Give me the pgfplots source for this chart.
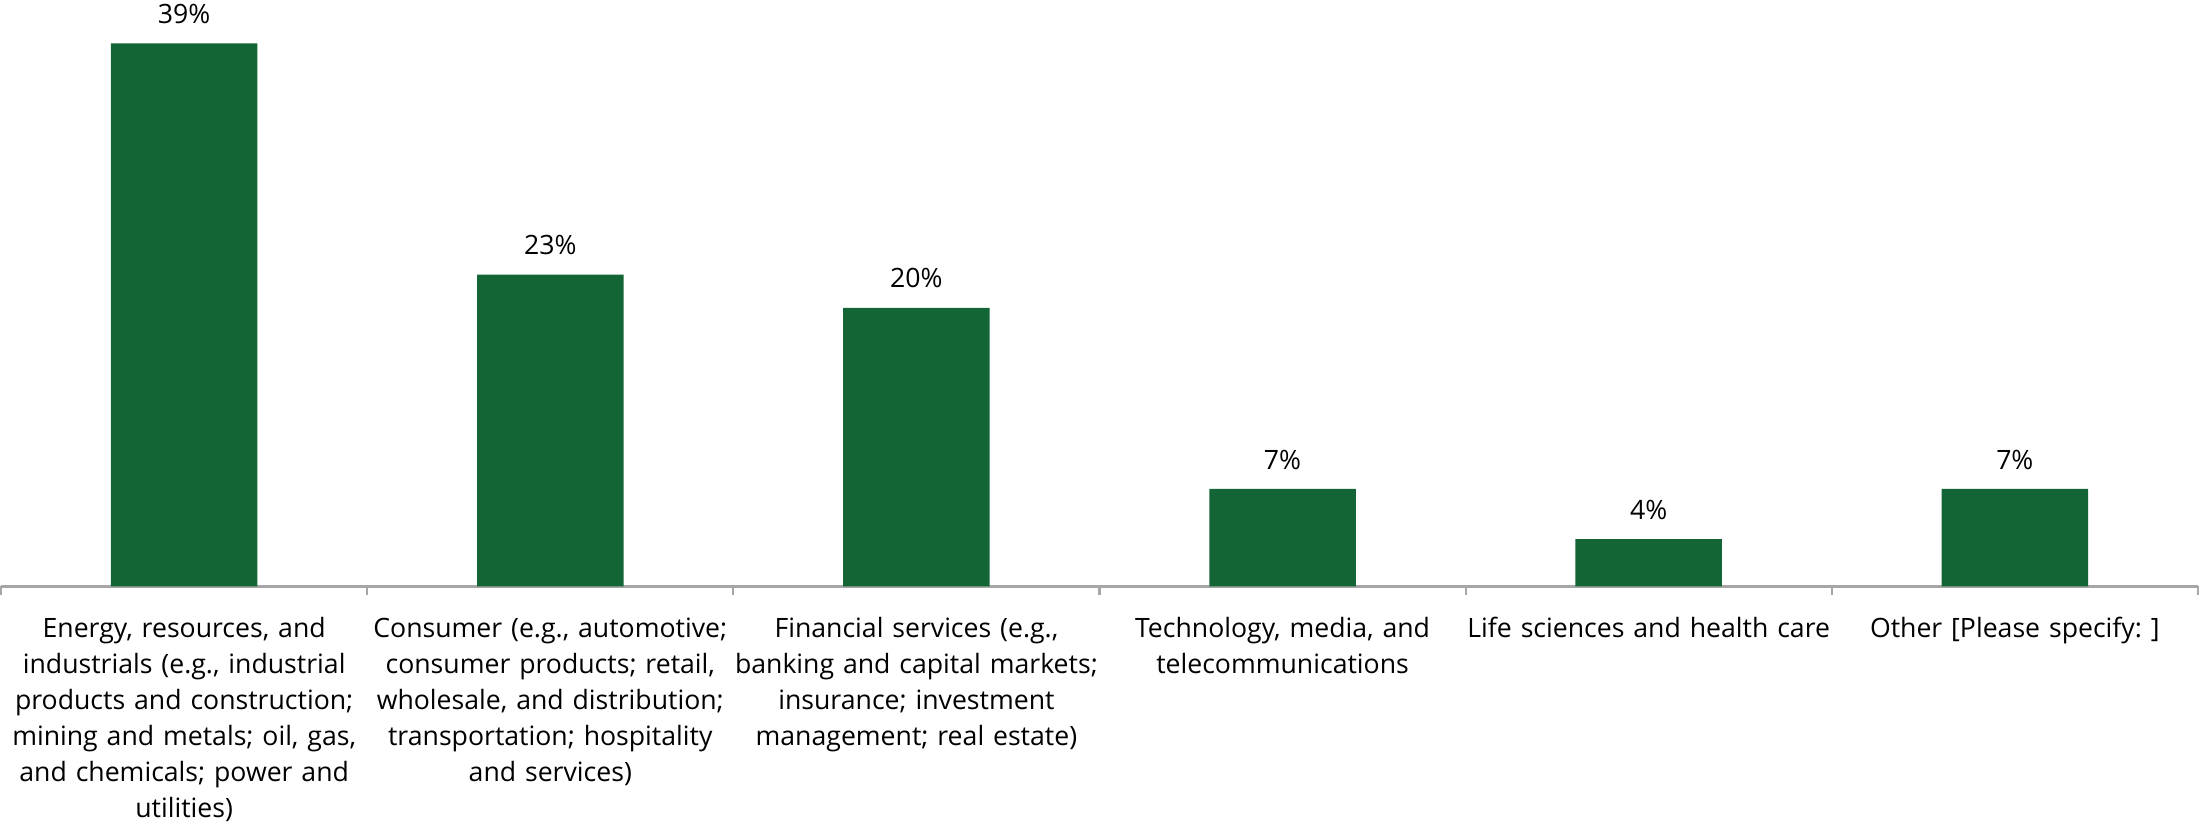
\documentclass[border=0pt]{standalone}
\usepackage{pgfplots}
\pgfplotsset{compat=1.18}
\usepackage{fontspec}
\setmainfont{Open Sans}
\frenchspacing
\definecolor{bargreen}{RGB}{19,101,54}
\definecolor{axisgray}{RGB}{166,166,166}
\begin{document}
\frenchspacing
\begin{tikzpicture}
\begin{axis}[
  scale only axis,
  width=791.64pt, height=210.8pt,
  xmin=-0.5, xmax=5.5, ymin=0, ymax=42,
  hide y axis,
  axis x line*=bottom,
  x axis line style={axisgray, line width=0.8pt},
  xtick={-0.5,0.5,1.5,2.5,3.5,4.5,5.5},
  x tick label as interval,
  tick align=outside,
  major tick length=2.9pt,
  xtick style={axisgray, line width=0.8pt},
  xticklabels={
    {Energy, resources, and\\industrials (e.g., industrial\\products and construction;\\mining and metals; oil, gas,\\and chemicals; power and\\utilities)},
    {Consumer (e.g., automotive;\\consumer products; retail,\\wholesale, and distribution;\\transportation; hospitality\\and services)},
    {Financial services (e.g.,\\banking and capital markets;\\insurance; investment\\management; real estate)},
    {Technology, media, and\\telecommunications},
    {Life sciences and health care},
    {Other [Please specify: ]}
  },
  xticklabel style={font=\fontsize{9.6}{13.0}\selectfont\frenchspacing, text width=132pt, align=center, anchor=base, inner sep=0pt, yshift=-15.4pt, text=black},
  ybar, bar width=0.4,
  clip=false,
]
\addplot[fill=bargreen, draw=none,
  nodes near coords={\pgfplotspointmeta\%},
  point meta=explicit symbolic,
  nodes near coords style={font=\fontsize{9.6}{13.0}\selectfont, anchor=base, inner sep=0pt, yshift=7.2pt, text=black}]
  table[x=x, y=y, meta=label] {
x y label
0 39 39
1 22.4 23
2 20 20
3 7 7
4 3.4 4
5 7 7
};
\path (axis cs:-0.5,42.11) -- (axis cs:-0.5,-16.86);
\end{axis}
\end{tikzpicture}
\end{document}
